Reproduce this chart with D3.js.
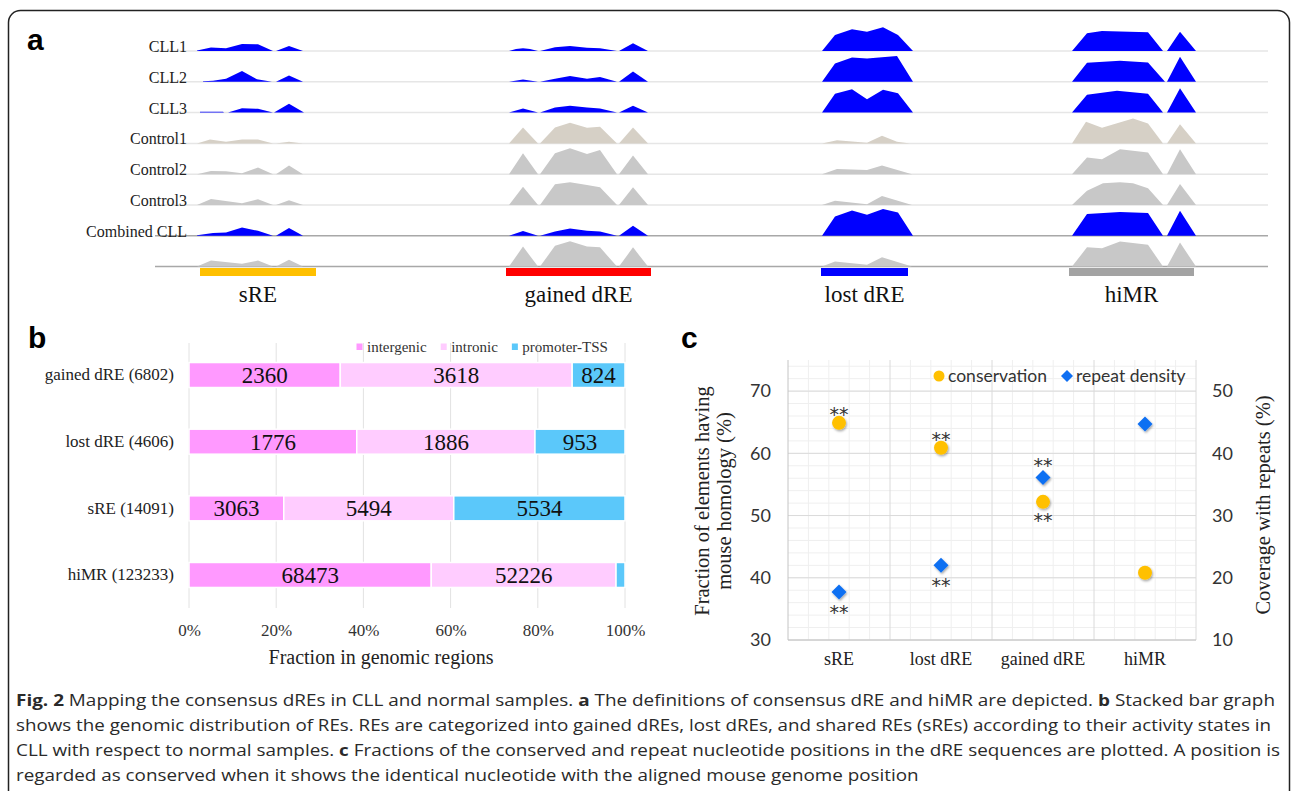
<!DOCTYPE html>
<html>
<head>
<meta charset="utf-8">
<script src="https://cdn.jsdelivr.net/npm/d3@7"></script>
<style>
body { margin: 0; background: #fff; }
svg { display: block; }
</style>
</head>
<body>
<svg id="fig" width="1292" height="791"></svg>
<script>
// ---------- data: panel a (signal tracks) ----------
// positions are in 100 bp units along the shown locus, values are signal (0-100)
var sampleNames = ["CLL1", "CLL2", "CLL3", "Control1", "Control2", "Control3", "Combined CLL", ""]
var regionNames = ["sRE", "gained dRE", "lost dRE", "hiMR"]
var regionSpans = [[45, 161], [351, 496], [666, 753], [914, 1039]]

var sreSignal = [
	[[42, 2], [56, 14], [71, 11], [87, 28], [103, 27], [118, 0], [121, 0], [134, 20], [148, 0]],
	[[48, 2], [58, 4], [71, 12], [87, 43], [102, 10], [117, 0], [121, 0], [134, 25], [148, 0]],
	[[45, 3], [68, 3], [69, 0], [73, 0], [87, 17], [103, 15], [118, 0], [119, 0], [134, 35], [149, 0]],
	[[42, 0], [55, 16], [71, 7], [87, 16], [103, 16], [118, 0], [121, 0], [134, 7], [148, 0]],
	[[42, 0], [56, 13], [71, 12], [87, 4], [103, 27], [118, 0], [121, 0], [134, 35], [148, 0]],
	[[42, 0], [56, 24], [87, 7], [103, 23], [118, 0], [121, 0], [134, 19], [148, 0]],
	[[42, 2], [58, 11], [71, 13], [87, 33], [103, 20], [118, 0], [121, 0], [134, 31], [148, 0]],
	[[42, 0], [56, 24], [87, 11], [103, 24], [118, 0], [121, 0], [134, 27], [148, 0]]
]
var gainedSignal = [
	[[354, 0], [361, 8], [368, 11], [375, 8], [383, 0], [385, 0], [400, 15], [415, 20], [432, 13], [445, 11], [462, 0], [464, 0], [478, 31], [493, 0]],
	[[354, 0], [368, 9], [383, 0], [385, 0], [400, 12], [415, 23], [432, 12], [445, 19], [462, 0], [464, 0], [478, 41], [493, 0]],
	[[354, 0], [368, 16], [383, 0], [385, 0], [400, 20], [415, 27], [432, 20], [445, 16], [462, 0], [464, 0], [478, 27], [493, 0]],
	[[354, 0], [368, 64], [383, 0], [385, 0], [400, 64], [415, 83], [432, 63], [445, 67], [462, 0], [464, 0], [478, 64], [493, 0]],
	[[354, 0], [368, 84], [383, 0], [385, 0], [400, 84], [415, 104], [432, 81], [445, 97], [462, 0], [464, 0], [478, 75], [493, 0]],
	[[354, 0], [368, 73], [383, 0], [385, 0], [400, 83], [415, 91], [432, 80], [445, 71], [462, 0], [464, 0], [478, 71], [493, 0]],
	[[354, 0], [368, 19], [383, 0], [385, 0], [400, 17], [415, 29], [432, 20], [445, 17], [462, 0], [464, 0], [478, 40], [493, 0]],
	[[354, 0], [368, 80], [383, 0], [385, 0], [400, 83], [415, 101], [432, 80], [445, 77], [462, 0], [464, 0], [478, 77], [493, 0]]
]
var lostSignal = [
	[[667, 0], [680, 64], [697, 87], [712, 77], [728, 95], [743, 64], [758, 0]],
	[[667, 0], [680, 73], [697, 97], [712, 93], [742, 103], [758, 0]],
	[[667, 0], [680, 75], [697, 93], [712, 53], [728, 91], [743, 77], [758, 0]],
	[[667, 0], [682, 13], [712, 3], [727, 31], [742, 7], [755, 0]],
	[[667, 0], [682, 21], [712, 17], [727, 35], [757, 0]],
	[[667, 0], [680, 17], [712, 3], [727, 36], [757, 0]],
	[[667, 0], [680, 77], [697, 101], [712, 84], [728, 107], [743, 93], [758, 0]],
	[[667, 0], [680, 20], [712, 7], [727, 37], [757, 0]]
]
var himrSignal = [
	[[917, 0], [932, 71], [947, 80], [993, 75], [1008, 0], [1012, 0], [1025, 77], [1041, 0]],
	[[917, 0], [932, 76], [965, 84], [993, 77], [1010, 0], [1012, 0], [1025, 100], [1041, 0]],
	[[917, 0], [932, 71], [962, 87], [993, 75], [1008, 0], [1012, 0], [1025, 97], [1041, 0]],
	[[917, 0], [931, 87], [947, 63], [978, 100], [993, 80], [1008, 0], [1012, 0], [1025, 77], [1041, 0]],
	[[917, 0], [932, 67], [947, 60], [965, 100], [993, 87], [1008, 0], [1012, 0], [1025, 100], [1041, 0]],
	[[917, 0], [932, 57], [948, 87], [965, 91], [978, 87], [993, 67], [1008, 0], [1012, 0], [1025, 84], [1041, 0]],
	[[917, 0], [932, 87], [965, 95], [993, 91], [1008, 0], [1012, 0], [1025, 100], [1041, 0]],
	[[917, 0], [932, 77], [947, 73], [965, 100], [993, 87], [1008, 0], [1012, 0], [1025, 96], [1041, 0]]
]

// ---------- data: panel b (genomic distribution) ----------
var barCategories = ["gained dRE (6802)", "lost dRE (4606)", "sRE (14091)", "hiMR (123233)"]
var regionTypes = ["intergenic", "intronic", "promoter-TSS"]
var intergenic = [2360, 1776, 3063, 68473]
var intronic = [3618, 1886, 5494, 52226]
var promoterTSS = [824, 953, 5534, 2534]
var percentTicks = [0, 0.2, 0.4, 0.6, 0.8, 1]

// ---------- data: panel c (conservation / repeats) ----------
var dotCategories = ["sRE", "lost dRE", "gained dRE", "hiMR"]
var conservation = [64.9, 60.9, 52.2, 40.8]
var repeatDensity = [17.7, 22.0, 36.1, 44.7]
var conservationStars = ["above", "above", "below", ""]
var repeatStars = ["below", "below", "above", ""]
var leftTicks = [30, 40, 50, 60, 70]
var rightTicks = [10, 20, 30, 40, 50]

// ---------- styles ----------
var serif = "'Liberation Serif', 'Times New Roman', serif"
var sans = "Lato, 'Open Sans', sans-serif"
var blue = "#0000ff"
var taupe = "#d6d0c6"
var grey = "#c8c8c8"
var regionColors = ["#ffc000", "#ff0000", "#0000ff", "#a3a3a3"]
var typeColors = ["#ff99ff", "#ffccff", "#5bc8fa"]

var svg = d3.select("#fig")

drawFrame()
drawTracks()
drawBars()
drawDots()
drawCaption()

// Outer frame and panel letters
function drawFrame() {
	svg.append("rect")
		.attr("x", 8.5).attr("y", 10.5)
		.attr("width", 1281).attr("height", 800)
		.attr("rx", 12)
		.attr("fill", "none")
		.attr("stroke", "#222")
		.attr("stroke-width", 1.5)

	var letters = [["a", 27, 50], ["b", 28, 348], ["c", 681, 348]]
	svg.selectAll(".panel-letter")
		.data(letters)
		.enter().append("text")
		.attr("class", "panel-letter")
		.attr("x", function(d) { return d[1] })
		.attr("y", function(d) { return d[2] })
		.style("font", "bold 30px 'Liberation Sans', Arial, sans-serif")
		.text(function(d) { return d[0] })
}

// Colour of a track by its sample
function trackColor(i) {
	if (i < 3 || i === 6) return blue
	if (i === 3) return taupe
	return grey
}

// Panel a: genome browser style tracks
function drawTracks() {
	var g = svg.append("g")
	var x = d3.scaleLinear().domain([0, 1113]).range([155, 1268])
	var row = d3.scalePoint().domain(d3.range(sampleNames.length)).range([51, 266.6])
	var h = d3.scaleLinear().domain([0, 100]).range([0, 25])
	var regionSignals = [sreSignal, gainedSignal, lostSignal, himrSignal]

	// baselines
	g.selectAll(".baseline")
		.data(sampleNames)
		.enter().append("line")
		.attr("class", "baseline")
		.attr("x1", x(0)).attr("x2", x(1113))
		.attr("y1", function(d, i) { return row(i) })
		.attr("y2", function(d, i) { return row(i) })
		.attr("stroke", function(d, i) { return i >= 6 ? "#a8a8a8" : "#e6e6e6" })
		.attr("stroke-width", 1.5)

	// signal
	regionSignals.forEach(function(tracks) {
		tracks.forEach(function(points, i) {
			var area = d3.area()
				.x(function(d) { return x(d[0]) })
				.y0(row(i))
				.y1(function(d) { return row(i) - h(d[1]) })
			g.append("path")
				.datum(points)
				.attr("d", area)
				.attr("fill", trackColor(i))
		})
	})

	// sample labels
	g.selectAll(".sample")
		.data(sampleNames)
		.enter().append("text")
		.attr("class", "sample")
		.attr("x", 187)
		.attr("y", function(d, i) { return row(i) + 1 })
		.attr("text-anchor", "end")
		.style("font", "16px " + serif)
		.attr("fill", "#222")
		.text(function(d) { return d })

	// region bars and names
	g.selectAll(".region")
		.data(regionSpans)
		.enter().append("rect")
		.attr("class", "region")
		.attr("x", function(d) { return x(d[0]) })
		.attr("width", function(d) { return x(d[1]) - x(d[0]) })
		.attr("y", 268)
		.attr("height", 8)
		.attr("fill", function(d, i) { return regionColors[i] })
	g.selectAll(".region-name")
		.data(regionSpans)
		.enter().append("text")
		.attr("class", "region-name")
		.attr("x", function(d) { return x((d[0] + d[1]) / 2) })
		.attr("y", 302)
		.attr("text-anchor", "middle")
		.style("font", "23px " + serif)
		.attr("fill", "#111")
		.text(function(d, i) { return regionNames[i] })
}

// Panel b: 100% stacked bars
function drawBars() {
	var g = svg.append("g")
	var x = d3.scaleLinear().domain([0, 1]).range([189, 625])
	var y = d3.scaleBand().domain(barCategories).range([341.7, 608.3])
		.paddingInner(0.625).paddingOuter(0.3125)

	var rows = barCategories.map(function(c, i) {
		return { cat: c, "intergenic": intergenic[i], "intronic": intronic[i], "promoter-TSS": promoterTSS[i] }
	})
	var series = d3.stack().keys(regionTypes).offset(d3.stackOffsetExpand)(rows)

	// grid
	g.selectAll(".grid")
		.data(percentTicks)
		.enter().append("line")
		.attr("x1", function(d) { return x(d) }).attr("x2", function(d) { return x(d) })
		.attr("y1", 343).attr("y2", 608)
		.attr("stroke", "#e2e2e2")
		.attr("stroke-width", 1)

	var layer = g.selectAll(".layer")
		.data(series)
		.enter().append("g")
		.attr("fill", function(d, i) { return typeColors[i] })
	layer.selectAll("rect")
		.data(function(d) { return d })
		.enter().append("rect")
		.attr("x", function(d) { return x(d[0]) })
		.attr("width", function(d) { return x(d[1]) - x(d[0]) })
		.attr("y", function(d) { return y(d.data.cat) })
		.attr("height", y.bandwidth())
		.attr("stroke", "#fff")
		.attr("stroke-width", 1.5)

	// value labels
	series.forEach(function(s) {
		s.forEach(function(d) {
			if (x(d[1]) - x(d[0]) < 25) return
			g.append("text")
				.attr("x", (x(d[0]) + x(d[1])) / 2)
				.attr("y", y(d.data.cat) + y.bandwidth() / 2 + 8)
				.attr("text-anchor", "middle")
				.style("font", "23px " + serif)
				.attr("fill", "#111")
				.text(d.data[s.key])
		})
	})

	// axes
	var xAxis = g.append("g")
		.attr("transform", "translate(0,608)")
		.call(d3.axisBottom(x).tickValues(percentTicks).tickFormat(d3.format(".0%")).tickSize(0).tickPadding(16))
	xAxis.select(".domain").remove()
	xAxis.selectAll("text").style("font", "17px " + serif).attr("fill", "#333")

	var yAxis = g.append("g")
		.attr("transform", "translate(189,0)")
		.call(d3.axisLeft(y).tickSize(0).tickPadding(15))
	yAxis.select(".domain").remove()
	yAxis.selectAll("text").style("font", "17px " + serif).attr("fill", "#222")

	g.append("text")
		.attr("x", 381).attr("y", 664)
		.attr("text-anchor", "middle")
		.style("font", "20px " + serif)
		.attr("fill", "#222")
		.text("Fraction in genomic regions")

	// legend
	var lx = 356.5
	regionTypes.forEach(function(t, i) {
		g.append("rect")
			.attr("x", lx).attr("y", 343.5)
			.attr("width", 6).attr("height", 6.5)
			.attr("fill", typeColors[i])
		var txt = g.append("text")
			.attr("x", lx + 10.5).attr("y", 351.5)
			.style("font", "15px " + serif)
			.attr("fill", "#333")
			.text(t)
		lx += 10.5 + txt.node().getComputedTextLength() + 14
	})
}

// Panel c: dot plot with two y axes
function drawDots() {
	var g = svg.append("g")
	var x = d3.scaleBand().domain(dotCategories).range([788, 1196])
	var yL = d3.scaleLinear().domain([30, 75]).range([640, 360])
	var yR = d3.scaleLinear().domain([10, 55]).range([640, 360])
	var bw = x.bandwidth()

	var defs = svg.append("defs")
	defs.append("filter").attr("id", "shadow")
		.attr("x", "-50%").attr("y", "-50%").attr("width", "200%").attr("height", "200%")
		.append("feDropShadow")
		.attr("dx", 1).attr("dy", 1.5).attr("stdDeviation", 1)
		.attr("flood-color", "#000").attr("flood-opacity", 0.35)

	// minor grid
	g.selectAll(".minor-h")
		.data(d3.range(30, 76, 2))
		.enter().append("line")
		.attr("x1", 788).attr("x2", 1196)
		.attr("y1", function(d) { return yL(d) }).attr("y2", function(d) { return yL(d) })
		.attr("stroke", "#efefef")
	var minorX = []
	dotCategories.forEach(function(c) {
		for (var k = 1; k < 5; k++) minorX.push(x(c) + bw * k / 5)
	})
	g.selectAll(".minor-v")
		.data(minorX)
		.enter().append("line")
		.attr("x1", function(d) { return d }).attr("x2", function(d) { return d })
		.attr("y1", 360).attr("y2", 640)
		.attr("stroke", "#efefef")

	// major grid
	g.selectAll(".major-h")
		.data(leftTicks)
		.enter().append("line")
		.attr("x1", 788).attr("x2", 1196)
		.attr("y1", function(d) { return yL(d) }).attr("y2", function(d) { return yL(d) })
		.attr("stroke", "#dadada")
	var majorX = dotCategories.map(function(c) { return x(c) }).concat([1196])
	g.selectAll(".major-v")
		.data(majorX)
		.enter().append("line")
		.attr("x1", function(d) { return d }).attr("x2", function(d) { return d })
		.attr("y1", 360).attr("y2", 640)
		.attr("stroke", function(d, i) { return i === 0 ? "#c4c4c4" : "#dadada" })
	g.append("line")
		.attr("x1", 788).attr("x2", 1196).attr("y1", 640).attr("y2", 640)
		.attr("stroke", "#c4c4c4")

	// axes
	var left = g.append("g").attr("transform", "translate(788,0)")
		.call(d3.axisLeft(yL).tickValues(leftTicks).tickSize(0).tickPadding(17))
	var right = g.append("g").attr("transform", "translate(1196,0)")
		.call(d3.axisRight(yR).tickValues(rightTicks).tickSize(0).tickPadding(16))
	var bottom = g.append("g").attr("transform", "translate(0,640)")
		.call(d3.axisBottom(x).tickSize(0).tickPadding(12))
	;[left, right, bottom].forEach(function(a) { a.select(".domain").remove() })
	left.selectAll("text").style("font", "18px " + sans).attr("fill", "#333")
	right.selectAll("text").style("font", "18px " + sans).attr("fill", "#333")
	bottom.selectAll("text").style("font", "18px " + serif).attr("fill", "#222")

	// axis titles
	var titles = [["Fraction of elements having", 709, 501], ["mouse homology (%)", 731, 501], ["Coverage with repeats (%)", 1270, 505]]
	g.selectAll(".title")
		.data(titles)
		.enter().append("text")
		.attr("transform", function(d) { return "translate(" + d[1] + "," + d[2] + ") rotate(-90)" })
		.attr("text-anchor", "middle")
		.style("font", "20.5px " + serif)
		.attr("fill", "#222")
		.text(function(d) { return d[0] })

	var diamond = "M0,-7.5L7.5,0L0,7.5L-7.5,0Z"

	// conservation dots
	g.selectAll(".cons")
		.data(conservation)
		.enter().append("circle")
		.attr("cx", function(d, i) { return x(dotCategories[i]) + bw / 2 })
		.attr("cy", function(d) { return yL(d) })
		.attr("r", 7)
		.attr("fill", "#ffc000")
		.attr("filter", "url(#shadow)")

	// repeat diamonds
	g.selectAll(".rep")
		.data(repeatDensity)
		.enter().append("path")
		.attr("d", diamond)
		.attr("transform", function(d, i) { return "translate(" + (x(dotCategories[i]) + bw / 2) + "," + yR(d) + ")" })
		.attr("fill", "#0f6ff2")
		.attr("filter", "url(#shadow)")

	// significance stars
	function stars(values, marks, scale, gapUp, gapDown) {
		values.forEach(function(v, i) {
			if (!marks[i]) return
			var cy = scale(v) + (marks[i] === "above" ? -gapUp : gapDown)
			g.append("text")
				.attr("x", x(dotCategories[i]) + bw / 2)
				.attr("y", cy + 11)
				.attr("text-anchor", "middle")
				.style("font", "19px 'DejaVu Sans', sans-serif")
				.attr("fill", "#333")
				.text("**")
		})
	}
	stars(conservation, conservationStars, yL, 13, 14)
	stars(repeatDensity, repeatStars, yR, 17, 16)

	// legend
	g.append("circle").attr("cx", 939).attr("cy", 376).attr("r", 5.5).attr("fill", "#ffc000")
	g.append("text").attr("x", 948).attr("y", 382)
		.style("font", "17.5px " + sans).attr("fill", "#333").text("conservation")
	g.append("path").attr("d", "M0,-6L6,0L0,6L-6,0Z").attr("transform", "translate(1067,376)").attr("fill", "#0f6ff2")
	g.append("text").attr("x", 1076).attr("y", 382)
		.style("font", "17.5px " + sans).attr("fill", "#333").text("repeat density")
}

// Figure caption below the panels
function drawCaption() {
	var lines = [
		[["Fig. 2", true], [" Mapping the consensus dREs in CLL and normal samples. ", false], ["a", true],
			[" The definitions of consensus dRE and hiMR are depicted. ", false], ["b", true], [" Stacked bar graph", false]],
		[["shows the genomic distribution of REs. REs are categorized into gained dREs, lost dREs, and shared REs (sREs) according to their activity states in", false]],
		[["CLL with respect to normal samples. ", false], ["c", true],
			[" Fractions of the conserved and repeat nucleotide positions in the dRE sequences are plotted. A position is", false]],
		[["regarded as conserved when it shows the identical nucleotide with the aligned mouse genome position", false]]
	]
	var ends = [1275, 1271, 1280]
	var g = svg.append("g")
	var factors = []
	lines.forEach(function(parts, i) {
		var t = g.append("text")
			.attr("x", 16).attr("y", 706 + i * 25)
			.style("font", "16px 'Open Sans', sans-serif")
			.attr("fill", "#2a2a2a")
		parts.forEach(function(p) {
			t.append("tspan").attr("font-weight", p[1] ? 700 : 400).text(p[0])
		})
		var w = t.node().getComputedTextLength()
		if (i < ends.length) {
			factors.push((ends[i] - 16) / w)
			t.attr("textLength", ends[i] - 16).attr("lengthAdjust", "spacingAndGlyphs")
		} else {
			var f = d3.mean(factors)
			t.attr("textLength", w * f).attr("lengthAdjust", "spacingAndGlyphs")
		}
	})
}
</script>
</body>
</html>
